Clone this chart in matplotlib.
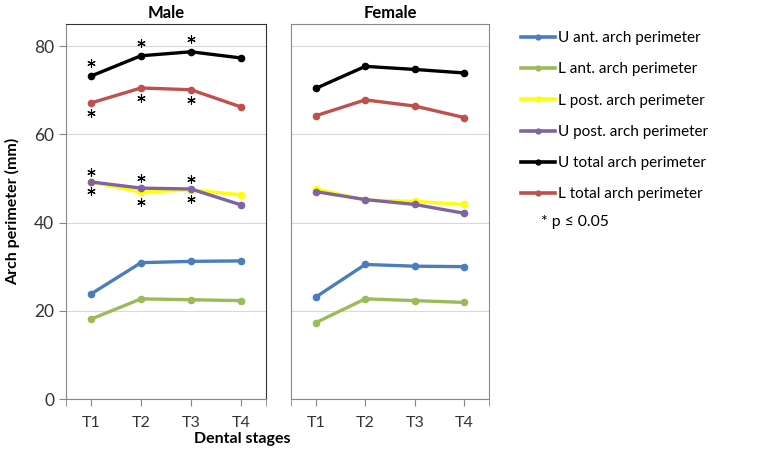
import numpy as np
import matplotlib.pyplot as plt
from matplotlib.lines import Line2D
from matplotlib.transforms import offset_copy

plt.rcParams['font.family'] = ['Lato', 'DejaVu Sans']

# ---------------------------
# DATA
# ---------------------------
stages = ["T1", "T2", "T3", "T4"]
series_names = ["U ant. arch perimeter", "L ant. arch perimeter", "L post. arch perimeter",
                "U post. arch perimeter", "U total arch perimeter", "L total arch perimeter"]
colors = ["#4a7ebb", "#9bbb59", "#ffff00", "#8064a2", "#000000", "#c0504d"]

male_u_ant = [23.8, 30.9, 31.2, 31.3]
male_l_ant = [18.1, 22.7, 22.5, 22.3]
male_l_post = [49.2, 46.9, 47.4, 46.3]
male_u_post = [49.2, 47.8, 47.6, 44.0]
male_u_total = [73.2, 77.8, 78.7, 77.3]
male_l_total = [67.1, 70.5, 70.1, 66.2]

female_u_ant = [23.1, 30.5, 30.1, 30.0]
female_l_ant = [17.3, 22.7, 22.3, 21.9]
female_l_post = [47.6, 45.1, 44.8, 44.1]
female_u_post = [47.0, 45.2, 44.1, 42.1]
female_u_total = [70.4, 75.4, 74.7, 73.9]
female_l_total = [64.2, 67.8, 66.4, 63.8]

male = [male_u_ant, male_l_ant, male_l_post, male_u_post, male_u_total, male_l_total]
female = [female_u_ant, female_l_ant, female_l_post, female_u_post, female_u_total, female_l_total]

# significant stages (male only): series index -> stage indices
sig_above = {4: [0, 1, 2], 3: [0, 1, 2]}
sig_below = {5: [0, 1, 2], 2: [0, 1, 2]}
# asterisk offset from the point, in points
sig_offset = {4: 9.5, 3: 7.2, 5: -7.4, 2: -6.8}

# ---------------------------
# PLOT
# ---------------------------
fig = plt.figure(figsize=(7.62, 4.5), dpi=100)
ax_m = fig.add_axes([66 / 762, 1 - 399 / 450, 200 / 762, 375 / 450])
ax_f = fig.add_axes([291 / 762, 1 - 399 / 450, 198 / 762, 375 / 450])

x = np.arange(1, len(stages) + 1)

for ax, data, title in [(ax_m, male, "Male"), (ax_f, female, "Female")]:
    for vals, c in zip(data, colors):
        ax.plot(x, vals, color=c, lw=2.4, marker="o", ms=4.5, zorder=3)
    ax.set_xlim(0.5, 4.5)
    ax.set_ylim(0, 85)
    ax.set_yticks([0, 20, 40, 60, 80])
    ax.set_xticks(x)
    ax.set_xticklabels(stages)
    ax.set_xticks([0.5, 4.5], minor=True)
    ax.tick_params(axis="x", which="both", length=5, color="#888888", labelsize=11.5,
                   pad=7, labelcolor="#333333")
    ax.tick_params(axis="y", length=5, color="#888888", labelsize=12.5, labelcolor="#333333")
    ax.grid(axis="y", color="#d9d9d9", lw=0.8)
    ax.set_axisbelow(True)
    for s in ax.spines.values():
        s.set_color("#888888")
    ax.set_title(title, fontsize=12, fontweight="bold", pad=4)

ax_m.spines["top"].set_color("#333333")
ax_m.spines["right"].set_color("#333333")
ax_f.set_yticklabels([])
ax_f.tick_params(axis="y", length=0)

# significance asterisks
for sig in (sig_above, sig_below):
    for i, idx in sig.items():
        tr = offset_copy(ax_m.transData, fig=fig, x=0, y=sig_offset[i], units="points")
        ax_m.plot(x[idx], np.array(male[i])[idx], ls="none", marker=(6, 2, 0), ms=6,
                  mew=0.8, color="black", transform=tr, zorder=4, clip_on=False)

ax_m.set_ylabel("Arch perimeter (mm)", fontsize=11.5, fontweight="bold", labelpad=10)
fig.text(242 / 762, 1 - 439 / 450, "Dental stages", ha="center", va="center",
         fontsize=11.5, fontweight="bold")

handles = [Line2D([], [], color=c, lw=2.6, marker="o", ms=3.5) for c in colors]
leg = fig.legend(handles, series_names, loc="upper left", bbox_to_anchor=(515 / 762, 1 - 25 / 450),
                 frameon=False, fontsize=11, handlelength=2.2, handletextpad=0.2,
                 labelspacing=1.13, borderaxespad=0)
fig.text(541 / 762, 1 - 222 / 450, "* p \u2264 0.05", ha="left", va="center", fontsize=11.3)

fig.savefig("out.png", dpi=100)
